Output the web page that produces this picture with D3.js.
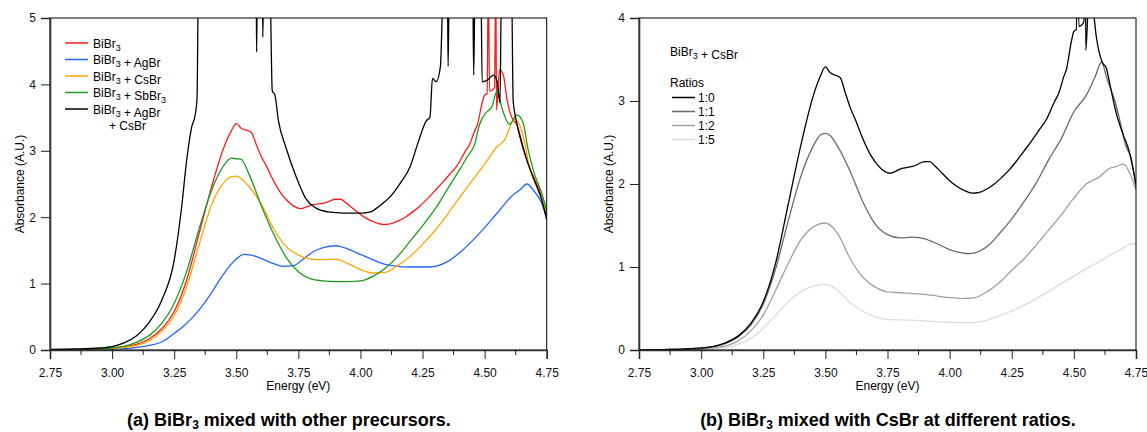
<!DOCTYPE html>
<html>
<head>
<meta charset="utf-8">
<script src="https://cdn.jsdelivr.net/npm/d3@7"></script>
<style>
  body { margin: 0; background: #fff; }
  svg { font-family: "Liberation Sans", Arial, sans-serif; }
</style>
</head>
<body>
<svg id="chart" width="1147" height="432"></svg>
<script>
// absorbance spectra, [energy eV, absorbance A.U.]
const bibr3 = [
  [2.75,0.00],[2.85,0.005],[2.95,0.015],[3.00,0.025],[3.05,0.045],[3.10,0.09],
  [3.15,0.17],[3.20,0.32],[3.25,0.58],[3.30,1.05],[3.35,1.75],[3.40,2.45],
  [3.45,3.05],[3.48,3.30],[3.50,3.41],[3.52,3.34],[3.54,3.31],[3.56,3.28],
  [3.58,3.10],[3.60,2.92],[3.62,2.78],[3.65,2.55],[3.68,2.36],[3.70,2.27],
  [3.73,2.17],[3.76,2.13],[3.78,2.15],[3.80,2.18],[3.83,2.20],[3.86,2.22],
  [3.88,2.25],[3.90,2.27],[3.92,2.27],[3.94,2.22],[3.97,2.13],[4.00,2.04],
  [4.03,1.97],[4.06,1.92],[4.09,1.89],[4.12,1.90],[4.15,1.94],[4.18,2.00],
  [4.21,2.08],[4.24,2.17],[4.27,2.28],[4.30,2.40],[4.33,2.52],[4.36,2.65],
  [4.39,2.78],[4.42,2.98],[4.44,3.10],[4.46,3.30],[4.47,3.38],[4.49,3.72],
  [4.50,3.84],[4.51,3.86],[4.515,5.6],[4.52,3.90],[4.54,3.95],[4.545,5.6],
  [4.548,3.61],[4.56,4.22],[4.575,4.15],[4.59,3.78],[4.60,3.61],[4.615,3.46],
  [4.63,3.40],[4.645,3.20],[4.67,2.86],[4.70,2.58],[4.72,2.42],[4.75,2.00]
];
const bibr3AgBr = [
  [2.75,0.00],[2.95,0.005],[3.00,0.01],[3.05,0.02],[3.10,0.04],[3.15,0.07],
  [3.20,0.12],[3.25,0.25],[3.30,0.40],[3.35,0.60],[3.40,0.86],[3.45,1.15],
  [3.50,1.37],[3.53,1.44],[3.56,1.43],[3.60,1.38],[3.65,1.30],[3.69,1.26],
  [3.73,1.27],[3.77,1.37],[3.81,1.48],[3.85,1.54],[3.90,1.57],[3.95,1.52],
  [4.00,1.44],[4.05,1.36],[4.10,1.29],[4.15,1.26],[4.20,1.25],[4.28,1.25],
  [4.35,1.33],[4.41,1.50],[4.48,1.76],[4.55,2.06],[4.61,2.32],[4.645,2.42],
  [4.67,2.50],[4.70,2.39],[4.73,2.21],[4.75,1.98]
];
const bibr3CsBr = [
  [2.75,0.00],[2.85,0.005],[2.95,0.015],[3.00,0.02],[3.05,0.04],[3.10,0.07],
  [3.15,0.14],[3.20,0.28],[3.25,0.52],[3.30,0.95],[3.35,1.58],[3.40,2.18],
  [3.45,2.52],[3.48,2.61],[3.50,2.62],[3.52,2.58],[3.55,2.47],[3.60,2.20],
  [3.65,1.83],[3.70,1.56],[3.75,1.43],[3.80,1.37],[3.85,1.36],[3.90,1.37],
  [3.95,1.30],[4.00,1.21],[4.05,1.16],[4.10,1.17],[4.15,1.27],[4.20,1.41],
  [4.25,1.59],[4.30,1.80],[4.35,2.04],[4.40,2.30],[4.45,2.55],[4.50,2.80],
  [4.55,3.06],[4.58,3.16],[4.62,3.47],[4.64,3.40],[4.66,3.15],[4.68,2.75],
  [4.71,2.46],[4.75,2.08]
];
const bibr3SbBr3 = [
  [2.75,0.00],[2.85,0.005],[2.95,0.02],[3.00,0.03],[3.05,0.06],[3.10,0.12],
  [3.15,0.22],[3.20,0.40],[3.25,0.70],[3.30,1.18],[3.35,1.82],[3.40,2.40],
  [3.45,2.78],[3.48,2.89],[3.50,2.88],[3.52,2.87],[3.55,2.66],[3.60,2.18],
  [3.65,1.75],[3.70,1.40],[3.75,1.18],[3.80,1.07],[3.85,1.04],[3.90,1.03],
  [3.95,1.03],[4.00,1.04],[4.05,1.11],[4.10,1.23],[4.15,1.41],[4.20,1.64],
  [4.25,1.87],[4.30,2.12],[4.35,2.42],[4.40,2.72],[4.43,2.91],[4.46,3.10],
  [4.48,3.40],[4.50,3.55],[4.53,3.67],[4.55,3.90],[4.57,3.64],[4.60,3.40],
  [4.63,3.54],[4.655,3.42],[4.675,3.02],[4.70,2.66],[4.73,2.36],[4.75,2.10]
];
const bibr3AgBrCsBr = [
  [2.75,0.01],[2.85,0.015],[2.95,0.03],[3.00,0.05],[3.05,0.11],[3.10,0.22],
  [3.15,0.42],[3.20,0.75],[3.25,1.35],[3.28,2.15],[3.30,2.85],[3.32,3.35],
  [3.335,3.55],[3.342,3.78],[3.348,5.6],[3.58,5.6],[3.582,4.49],[3.585,5.6],
  [3.605,5.6],[3.607,4.71],[3.61,5.6],[3.635,5.6],[3.645,3.90],[3.655,3.85],
  [3.67,3.45],[3.70,3.05],[3.74,2.62],[3.78,2.28],[3.82,2.14],[3.87,2.08],
  [3.90,2.07],[3.95,2.06],[4.00,2.06],[4.04,2.08],[4.08,2.18],[4.12,2.31],
  [4.16,2.51],[4.20,2.76],[4.23,3.10],[4.265,3.45],[4.28,3.51],[4.29,4.09],
  [4.305,4.04],[4.322,4.27],[4.335,5.6],[4.35,5.6],[4.353,4.27],[4.358,5.6],
  [4.452,5.6],[4.456,4.14],[4.462,5.6],[4.485,5.6],[4.49,4.04],[4.51,4.06],
  [4.535,4.14],[4.55,4.05],[4.562,3.72],[4.568,5.6],[4.608,5.6],[4.615,3.75],
  [4.625,3.50],[4.643,3.20],[4.67,2.86],[4.70,2.56],[4.73,2.26],[4.75,1.96]
];
// panel (b): BiBr3 + CsBr ratios (1:0 is the plain BiBr3 spectrum)
const ratio11 = [
  [2.75,0.00],[2.85,0.005],[2.95,0.01],[3.00,0.02],[3.05,0.04],[3.10,0.08],
  [3.15,0.16],[3.20,0.30],[3.25,0.55],[3.30,0.98],[3.35,1.55],[3.40,2.08],
  [3.45,2.45],[3.48,2.59],[3.50,2.61],[3.52,2.58],[3.55,2.45],[3.60,2.15],
  [3.65,1.79],[3.70,1.52],[3.75,1.39],[3.80,1.35],[3.85,1.36],[3.90,1.34],
  [3.95,1.28],[4.00,1.21],[4.05,1.17],[4.08,1.16],[4.12,1.19],[4.16,1.27],
  [4.20,1.40],[4.25,1.58],[4.30,1.79],[4.35,2.02],[4.40,2.30],[4.45,2.55],
  [4.50,2.87],[4.55,3.07],[4.585,3.29],[4.612,3.47],[4.63,3.30],[4.645,3.17],
  [4.665,3.00],[4.69,2.70],[4.71,2.45],[4.73,2.32],[4.75,1.95]
];
const ratio12 = [
  [2.75,0.00],[2.95,0.005],[3.00,0.01],[3.05,0.03],[3.10,0.05],[3.15,0.11],
  [3.20,0.23],[3.25,0.42],[3.30,0.72],[3.35,1.04],[3.40,1.32],[3.45,1.48],
  [3.50,1.53],[3.55,1.40],[3.60,1.10],[3.65,0.88],[3.70,0.76],[3.75,0.70],
  [3.80,0.69],[3.85,0.68],[3.90,0.67],[3.95,0.65],[4.00,0.63],[4.05,0.62],
  [4.10,0.63],[4.15,0.70],[4.20,0.81],[4.25,0.96],[4.30,1.10],[4.35,1.27],
  [4.40,1.45],[4.45,1.63],[4.50,1.83],[4.55,2.00],[4.60,2.08],[4.645,2.19],
  [4.67,2.21],[4.70,2.24],[4.725,2.13],[4.75,1.93]
];
const ratio15 = [
  [2.75,0.00],[3.00,0.005],[3.05,0.015],[3.10,0.03],[3.15,0.07],[3.20,0.14],
  [3.25,0.26],[3.30,0.42],[3.35,0.58],[3.40,0.70],[3.45,0.77],[3.50,0.79],
  [3.55,0.72],[3.60,0.57],[3.65,0.47],[3.70,0.40],[3.75,0.37],[3.85,0.36],
  [3.95,0.34],[4.05,0.33],[4.10,0.33],[4.15,0.36],[4.20,0.41],[4.25,0.47],
  [4.30,0.54],[4.35,0.62],[4.40,0.71],[4.45,0.80],[4.50,0.89],[4.55,0.98],
  [4.60,1.06],[4.65,1.15],[4.70,1.23],[4.72,1.27],[4.75,1.28]
];

const energyTicks = [2.75, 3.00, 3.25, 3.50, 3.75, 4.00, 4.25, 4.50, 4.75];
const energyMinor = [2.875, 3.125, 3.375, 3.625, 3.875, 4.125, 4.375, 4.625];
const absTicksA = [0, 1, 2, 3, 4, 5];
const absTicksB = [0, 1, 2, 3, 4];

const seriesA = [
  {label: [["BiBr"], ["3", 1]], color: "#ff1a1a", data: bibr3},
  {label: [["BiBr"], ["3", 1], [" + AgBr"]], color: "#2266ff", data: bibr3AgBr},
  {label: [["BiBr"], ["3", 1], [" + CsBr"]], color: "#ffa500", data: bibr3CsBr},
  {label: [["BiBr"], ["3", 1], [" + SbBr"], ["3", 1]], color: "#1c9c1c", data: bibr3SbBr3},
  {label: [["BiBr"], ["3", 1], [" + AgBr"]], label2: "+ CsBr", color: "#000000", data: bibr3AgBrCsBr}
];
const seriesB = [
  {label: "1:0", color: "#000000", data: bibr3},
  {label: "1:1", color: "#6a6a6a", data: ratio11},
  {label: "1:2", color: "#a0a0a0", data: ratio12},
  {label: "1:5", color: "#dcdcdc", data: ratio15}
];

const FS = 12;
var svg = d3.select("#chart");

function richText(sel, parts){
  parts.forEach(function(p){
    if (p[1]) {
      sel.append("tspan").attr("font-size", 9).attr("dy", 3).text(p[0]);
      sel.append("tspan").attr("font-size", FS).attr("dy", -3).text("");
    } else {
      sel.append("tspan").text(p[0]);
    }
  });
}

function drawPanel(p){
  var x = d3.scaleLinear().domain([2.75, 4.75]).range([p.left, p.right]);
  var y = d3.scaleLinear().domain([0, p.yMax]).range([p.bottom, p.top]);
  var g = svg.append("g");

  g.append("clipPath").attr("id", p.id + "_clip")
    .append("rect")
    .attr("x", p.left).attr("y", p.top)
    .attr("width", p.right - p.left).attr("height", p.bottom - p.top);

  var line = d3.line()
    .x(function(d){ return x(d[0]); })
    .y(function(d){ return y(d[1]); })
    .curve(d3.curveMonotoneX);

  g.append("g").attr("clip-path", "url(#" + p.id + "_clip)")
    .selectAll("path").data(p.order === "rev" ? p.series.slice().reverse() : p.series)
    .enter().append("path")
    .attr("d", function(s){ return line(s.data); })
    .attr("fill", "none")
    .attr("stroke", function(s){ return s.color; })
    .attr("stroke-width", 1.3)
    .attr("stroke-linejoin", "round");

  // frame
  g.append("rect")
    .attr("x", p.left).attr("y", p.top)
    .attr("width", p.right - p.left).attr("height", p.bottom - p.top)
    .attr("fill", "none").attr("stroke", "#000").attr("stroke-width", 1);

  var xAxis = g.append("g")
    .attr("transform", "translate(0," + p.bottom + ")")
    .call(d3.axisBottom(x).tickValues(energyTicks).tickSize(9).tickPadding(9)
      .tickFormat(d3.format(".2f")));
  xAxis.selectAll(".minor").data(energyMinor).enter().append("line")
    .attr("class", "minor")
    .attr("x1", function(d){ return x(d); }).attr("x2", function(d){ return x(d); })
    .attr("y1", 0).attr("y2", 5)
    .attr("stroke", "#222");

  var yAxis = g.append("g")
    .attr("transform", "translate(" + p.left + ",0)")
    .call(d3.axisLeft(y).tickValues(p.yTicks).tickSize(9).tickPadding(5)
      .tickFormat(d3.format("d")));

  [xAxis, yAxis].forEach(function(a){
    a.select(".domain").attr("stroke", "#333").attr("stroke-width", 1.6);
    a.selectAll(".tick line").attr("stroke", "#222");
    a.selectAll("text").attr("font-size", FS).attr("fill", "#111")
      .attr("font-family", "'Liberation Sans', Arial, sans-serif");
  });

  g.append("text")
    .attr("x", (p.left + p.right) / 2).attr("y", 390)
    .attr("text-anchor", "middle").attr("font-size", FS)
    .text("Energy (eV)");
  g.append("text")
    .attr("transform", "translate(" + (p.left - 26) + "," + ((p.top + p.bottom) / 2) + ") rotate(-90)")
    .attr("text-anchor", "middle").attr("font-size", FS)
    .text("Absorbance (A.U.)");

  var cap = g.append("text")
    .attr("x", p.capX).attr("y", 426)
    .attr("text-anchor", "middle").attr("font-size", 18).attr("font-weight", "bold");
  cap.append("tspan").text(p.caption[0]);
  cap.append("tspan").attr("font-size", 12).attr("dy", 3).text("3");
  cap.append("tspan").attr("dy", -3).text(p.caption[1]);
  return {x: x, y: y, g: g};
}

// panel (a)
var pa = drawPanel({
  id: "pa", left: 50, right: 546.7, top: 18, bottom: 350, yMax: 5,
  yTicks: absTicksA, series: seriesA, capX: 289, order: "fwd",
  caption: ["(a) BiBr", " mixed with other precursors."]
});
var legA = pa.g.append("g");
seriesA.forEach(function(s, i){
  var yy = 43 + i * 16.5;
  legA.append("line")
    .attr("x1", 65).attr("x2", 88).attr("y1", yy).attr("y2", yy)
    .attr("stroke", s.color).attr("stroke-width", 1.5);
  var t = legA.append("text").attr("x", 93).attr("y", yy + 4.5).attr("font-size", FS);
  richText(t, s.label);
  if (s.label2) {
    legA.append("text").attr("x", 109).attr("y", yy + 16.5 + 4.5)
      .attr("font-size", FS).text(s.label2);
  }
});

// panel (b)
var pb = drawPanel({
  id: "pb", left: 639, right: 1136, top: 18, bottom: 350, yMax: 4,
  yTicks: absTicksB, series: seriesB, capX: 888, order: "rev",
  caption: ["(b) BiBr", " mixed with CsBr at different ratios."]
});
var legB = pb.g.append("g");
var tb = legB.append("text").attr("x", 670).attr("y", 56).attr("font-size", FS);
richText(tb, [["BiBr"], ["3", 1], [" + CsBr"]]);
legB.append("text").attr("x", 670).attr("y", 87).attr("font-size", FS).text("Ratios");
seriesB.forEach(function(s, i){
  var yy = 97.5 + i * 14;
  legB.append("line")
    .attr("x1", 672).attr("x2", 695).attr("y1", yy).attr("y2", yy)
    .attr("stroke", s.color).attr("stroke-width", 1.5);
  legB.append("text").attr("x", 698).attr("y", yy + 4.5)
    .attr("font-size", FS).text(s.label);
});
</script>
</body>
</html>
